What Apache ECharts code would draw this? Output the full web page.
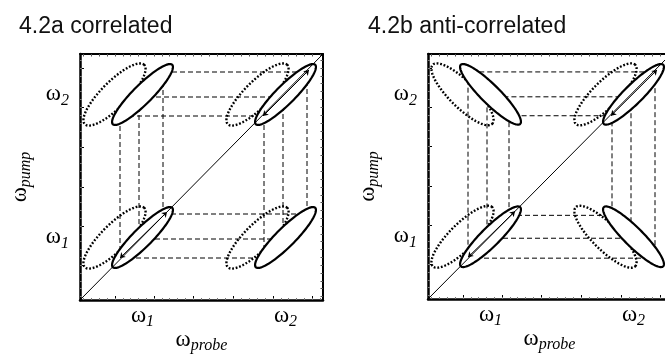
<!DOCTYPE html>
<html><head><meta charset="utf-8">
<script src="https://cdn.jsdelivr.net/npm/echarts@6/dist/echarts.min.js"></script>
<style>html,body{margin:0;padding:0;background:#fff}#c{width:665px;height:356px}</style>
</head><body><div id="c"></div>
<script>
// ---- data ----
const panelTitles = ['4.2a correlated', '4.2b anti-correlated'];
const W1 = 62.5, W2 = 205.5;                 // positions of ω1, ω2 on both axes
const labelValues = [W1, W2];
const tickLabels = ['1', '2'];
const xRange = [0, 243];
const yRange = [0, 246];
const majorTicks = [35, 74, 113, 153, 193, 232];
const minorTicks = [3.4, 11.3, 19.2, 27.1, 35, 42.8, 50.6, 58.4, 66.2, 74, 81.8, 89.6, 97.4, 105.2, 113,
  121, 129, 137, 145, 153, 161, 169, 177, 185, 193, 200.8, 208.6, 216.4, 224.2, 232, 239.8];
// peaks: [x centre, y centre, orientation (+1 correlated, -1 anti-correlated)]
const solidPeaksA  = [[62.5, 62.5, 1], [205.5, 205.5, 1], [62.5, 205.5, 1], [205.5, 62.5, 1]];
const dottedPeaksA = [[34.5, 62.5, 1], [177.5, 205.5, 1], [34.5, 205.5, 1], [177.5, 62.5, 1]];
const solidPeaksB  = [[62.5, 62.5, 1], [205.5, 205.5, 1], [62.5, 205.5, -1], [205.5, 62.5, -1]];
const dottedPeaksB = [[34.5, 62.5, 1], [177.5, 205.5, 1], [34.5, 205.5, -1], [177.5, 62.5, -1]];
// dashed rectangles [x1, y1, x2, y2]
const rectsA = [[40, 42, 184, 184], [59, 61, 203, 203], [83, 86, 227, 228]];
const rectsB = [[40, 41, 227, 228], [59, 61, 203, 203], [81, 84, 184, 184]];
const diagonal = [[0, 0], [243, 246]];
const arrows = [[[40, 42], [87, 88]], [[183, 184], [229, 230]]];
// ellipse half axes (data units)
const SOLID_AXES = [42, 9.5];
const DOTTED_AXES = [42, 13];

// ---- chart ----
const serif = 'Liberation Serif';
const rich = {
  w: { fontFamily: serif, fontSize: 23, color: '#000', verticalAlign: 'top', lineHeight: 24 },
  s: { fontFamily: serif, fontSize: 16, fontStyle: 'italic', color: '#000', verticalAlign: 'top', lineHeight: 16, padding: [10, 0, 0, 0] }
};
const grids = [
  { left: 80, top: 54, width: 243, height: 246, outerBoundsMode: 'none', containLabel: false },
  { left: 428, top: 54, width: 243, height: 245, outerBoundsMode: 'none', containLabel: false }
];
const xAxes = [], yAxes = [];
grids.forEach((g, gi) => {
  xAxes.push({
    type: 'value', gridIndex: gi, min: xRange[0], max: xRange[1], position: 'bottom',
    axisLine: { show: true, onZero: false, lineStyle: { color: '#000', width: 2.5 } },
    axisTick: { show: true, inside: true, length: 4, customValues: majorTicks, lineStyle: { color: '#000' } },
    axisLabel: { customValues: labelValues, margin: 4, formatter: v => '{w|ω}{s|' + tickLabels[labelValues.indexOf(v)] + '}', rich: rich },
    splitLine: { show: false },
    name: '{w|ω}{s|probe}', nameLocation: 'middle', nameGap: 28, nameMoveOverlap: false, nameTextStyle: { rich: rich }
  });
  xAxes.push({
    type: 'value', gridIndex: gi, min: xRange[0], max: xRange[1], position: 'top',
    axisLine: { show: true, onZero: false, lineStyle: { color: '#000', width: 2 } },
    axisTick: { show: true, inside: true, length: 2.5, customValues: minorTicks, lineStyle: { color: '#555' } },
    axisLabel: { show: false }, splitLine: { show: false }
  });
  xAxes.push({
    type: 'value', gridIndex: gi, min: xRange[0], max: xRange[1], position: 'bottom',
    axisLine: { show: false, onZero: false },
    axisTick: { show: true, inside: true, length: 2, customValues: minorTicks, lineStyle: { color: '#777' } },
    axisLabel: { show: false }, splitLine: { show: false }
  });
  yAxes.push({
    type: 'value', gridIndex: gi, min: yRange[0], max: yRange[1], position: 'left',
    axisLine: { show: true, onZero: false, lineStyle: { color: '#000', width: 2.5 } },
    axisTick: { show: true, inside: true, length: 4, customValues: majorTicks, lineStyle: { color: '#000' } },
    axisLabel: { customValues: labelValues, margin: 11, formatter: v => '{w|ω}{s|' + tickLabels[labelValues.indexOf(v)] + '}', rich: rich },
    splitLine: { show: false },
    name: '{w|ω}{s|pump}', nameLocation: 'middle', nameGap: 48, nameMoveOverlap: false, nameTextStyle: { rich: rich }
  });
  yAxes.push({
    type: 'value', gridIndex: gi, min: yRange[0], max: yRange[1], position: 'right',
    axisLine: { show: true, onZero: false, lineStyle: { color: '#000', width: 2 } },
    axisTick: { show: true, inside: true, length: 2.5, customValues: minorTicks, lineStyle: { color: '#555' } },
    axisLabel: { show: false }, splitLine: { show: false }
  });
  yAxes.push({
    type: 'value', gridIndex: gi, min: yRange[0], max: yRange[1], position: 'left',
    axisLine: { show: false, onZero: false },
    axisTick: { show: true, inside: true, length: 2, customValues: minorTicks, lineStyle: { color: '#777' } },
    axisLabel: { show: false }, splitLine: { show: false }
  });
});

function ellipseRenderer(axes, style) {
  const a = axes[0], b = axes[1];
  return function (params, api) {
    const cx = api.value(0), cy = api.value(1), o = api.value(2);
    const phi = o * Math.PI / 4;
    const pts = [];
    for (let i = 0; i < 120; i++) {
      const t = i / 120 * 2 * Math.PI;
      const ex = a * Math.cos(t), ey = b * Math.sin(t);
      pts.push(api.coord([cx + ex * Math.cos(phi) - ey * Math.sin(phi), cy + ex * Math.sin(phi) + ey * Math.cos(phi)]));
    }
    return { type: 'polygon', shape: { points: pts }, style: Object.assign({}, style) };
  };
}

const series = [];
const panels = [
  { rects: rectsA, solid: solidPeaksA, dotted: dottedPeaksA },
  { rects: rectsB, solid: solidPeaksB, dotted: dottedPeaksB }
];
panels.forEach((p, gi) => {
  const xi = gi * 3, yi = gi * 3;
  p.rects.forEach(r => {
    series.push({
      type: 'line', xAxisIndex: xi, yAxisIndex: yi, showSymbol: false, silent: true, z: 1,
      data: [[r[0], r[1]], [r[2], r[1]], [r[2], r[3]], [r[0], r[3]], [r[0], r[1]]],
      lineStyle: { color: '#000', width: 1, type: [5, 3] }
    });
  });
  series.push({
    type: 'custom', xAxisIndex: xi, yAxisIndex: yi, z: 2, silent: true,
    data: p.dotted,
    renderItem: ellipseRenderer(DOTTED_AXES, { fill: 'none', stroke: '#000', lineWidth: 2.4, lineDash: [1.8, 1.8] })
  });
  series.push({
    type: 'custom', xAxisIndex: xi, yAxisIndex: yi, z: 3, silent: true,
    data: p.solid,
    renderItem: ellipseRenderer(SOLID_AXES, { fill: '#fff', stroke: '#000', lineWidth: 2.2 })
  });
  series.push({
    type: 'line', xAxisIndex: xi, yAxisIndex: yi, showSymbol: false, silent: true, z: 4,
    data: diagonal, lineStyle: { color: '#000', width: 1 }
  });
  series.push({
    type: 'lines', coordinateSystem: 'cartesian2d', xAxisIndex: xi, yAxisIndex: yi, z: 5, silent: true,
    symbol: ['arrow', 'arrow'], symbolSize: 5,
    lineStyle: { color: '#000', width: 1, opacity: 1 },
    data: arrows.map(c => ({ coords: c }))
  });
});

const chart = echarts.init(document.getElementById('c'), null, { renderer: 'canvas' });
chart.setOption({
  animation: false,
  backgroundColor: '#fff',
  title: [
    { text: panelTitles[0], left: 14, top: 10, textStyle: { fontFamily: 'Liberation Sans', fontSize: 23, fontWeight: 'normal', color: '#111' } },
    { text: panelTitles[1], left: 363, top: 10, textStyle: { fontFamily: 'Liberation Sans', fontSize: 23, fontWeight: 'normal', color: '#111' } }
  ],
  grid: grids,
  xAxis: xAxes,
  yAxis: yAxes,
  series: series
});
</script></body></html>
